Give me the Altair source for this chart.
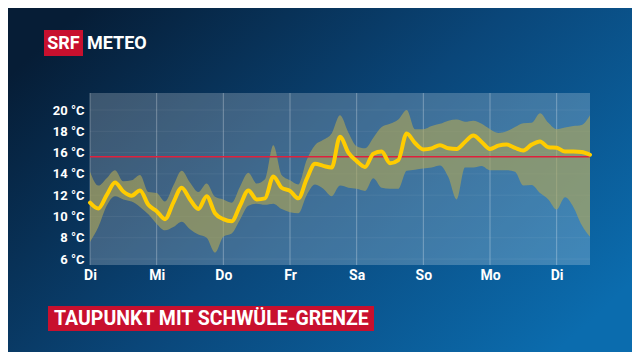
import altair as alt
import pandas as pd

# hours since start (Tuesday 00:00), 3-hourly
hours = list(range(0, 181, 3))

dewpoint = [11.3, 10.75, 12.0, 13.2, 12.35, 11.95, 12.45, 11.1, 10.5, 9.75,
            11.3, 12.7, 11.6, 10.7, 11.9, 10.3, 9.75, 9.55, 11.0, 12.45,
            11.6, 11.7, 13.75, 12.7, 12.4, 11.7, 13.5, 14.95, 14.75, 14.6,
            17.5, 16.0, 15.2, 14.65, 15.9, 16.1, 15.0, 15.3, 17.8, 16.9,
            16.3, 16.4, 16.7, 16.4, 16.35, 17.0, 17.6, 17.0, 16.35, 16.65,
            16.75, 16.45, 16.2, 16.75, 17.05, 16.5, 16.45, 16.1, 16.1, 16.05,
            15.8]

upper = [14.2, 12.9, 13.6, 14.35, 13.3, 13.4, 13.9, 12.3, 12.2, 11.4,
         12.9, 14.3, 13.2, 12.3, 13.1, 11.85, 11.6, 11.3, 12.8, 14.1,
         13.1, 13.5, 16.7, 13.9, 13.4, 13.0, 15.3, 16.7, 17.2, 17.8,
         19.5, 17.9, 16.6, 16.4, 17.4, 18.4, 18.7, 19.1, 20.0, 18.2,
         18.2, 18.5, 18.7, 19.0, 19.1, 18.9, 19.0, 18.7, 18.2, 17.85,
         18.0, 18.4, 18.75, 18.8, 19.7, 18.8, 18.2, 18.35, 18.5, 18.6,
         19.5]

lower = [7.6, 9.0, 11.0, 11.9, 11.6, 11.4, 10.9, 10.2, 9.3, 8.7,
         9.0, 9.5, 8.8, 8.3, 8.0, 6.6, 8.1, 8.4, 9.7, 11.0,
         11.2, 11.1, 11.2, 10.7, 10.4, 10.3, 12.0, 13.0, 12.6, 11.9,
         12.9, 12.7, 12.6, 12.4, 13.6, 12.7, 12.6, 12.6, 14.3, 14.4,
         14.5, 14.6, 14.8, 13.7, 11.6, 14.6, 14.6, 14.75, 14.35, 14.35,
         14.35, 14.2, 12.9, 12.95, 12.2, 11.6, 10.65, 11.8, 10.9, 9.2,
         8.1]

day_hours = [0, 24, 48, 72, 96, 120, 144, 168]
day_labels = ["Di", "Mi", "Do", "Fr", "Sa", "So", "Mo", "Di"]
y_ticks = [6, 8, 10, 12, 14, 16, 18, 20]
threshold = 15.6

title_text = "TAUPUNKT MIT SCHWÜLE-GRENZE"

df = pd.DataFrame({"h": hours, "v": dewpoint, "lo": lower, "hi": upper})
days_df = pd.DataFrame({"h": day_hours, "lab": day_labels})
one = pd.DataFrame({"a": [0]})

W, H = 500, 172
PL, PT = 82, 85
TOTAL_W, TOTAL_H = 624, 344

xscale = alt.Scale(domain=[0, 180], nice=False, zero=False)
yscale = alt.Scale(domain=[5.44, 21.6], nice=False, zero=False)

label_expr = "[" + ",".join("'%s'" % d for d in day_labels) + "][round(datum.value/24)]"

ax_x = alt.Axis(values=day_hours, labelExpr=label_expr, title=None, grid=False,
                domain=False, ticks=False, labelColor="white", labelFont="Roboto",
                labelFontWeight="bold", labelFontSize=14, labelPadding=3, zindex=1,
                labelFlush=False, labelOverlap=False)
ax_y = alt.Axis(values=y_ticks, labelExpr="datum.value + ' °C'", title=None, grid=False,
                domain=False, ticks=False, labelColor="white", labelFont="Roboto",
                labelFontWeight="bold", labelFontSize=13, labelPadding=6, zindex=1,
                labelFlush=False, labelOverlap=False)

X = lambda f: alt.X(f, scale=xscale, axis=ax_x)
Y = lambda f: alt.Y(f, scale=yscale, axis=ax_y)

bg = alt.Chart(one).mark_rect(
    fill=alt.Gradient(
        gradient="linear",
        stops=[alt.GradientStop(color="#061d36", offset=0),
               alt.GradientStop(color="#0a4679", offset=0.5),
               alt.GradientStop(color="#0b6cae", offset=1)],
        x1=0, y1=0.2, x2=1, y2=0.8),
).encode(x=alt.value(-PL), x2=alt.value(TOTAL_W - PL),
         y=alt.value(-PT), y2=alt.value(TOTAL_H - PT))

plotbg = alt.Chart(one).mark_rect(fill="white", opacity=0.22).encode(
    x=alt.value(0), x2=alt.value(W), y=alt.value(0), y2=alt.value(H))

grid = alt.Chart(days_df).mark_rule(color="white", opacity=0.3, strokeWidth=1).encode(
    x=X("h:Q"))

hgrid = alt.Chart(pd.DataFrame({"t": y_ticks})).mark_rule(
    color="white", opacity=0.06, strokeWidth=1).encode(y=Y("t:Q"))

band = alt.Chart(df).mark_area(color="#b0a655", opacity=0.62, interpolate="monotone").encode(
    x=X("h:Q"), y=Y("lo:Q"), y2="hi:Q")

redline = alt.Chart(pd.DataFrame({"t": [threshold]})).mark_rule(
    color="#e0203c", strokeWidth=1.5).encode(y=Y("t:Q"))

line = alt.Chart(df).mark_line(color="#ffcc00", strokeWidth=4, interpolate="monotone",
                               strokeCap="round", strokeJoin="round").encode(
    x=X("h:Q"), y=Y("v:Q"))

logo_box = alt.Chart(one).mark_rect(fill="#c8102e").encode(
    x=alt.value(44 - 90), x2=alt.value(83 - 90), y=alt.value(30 - 93), y2=alt.value(56 - 93))
logo_srf = alt.Chart(one).mark_text(text="SRF", color="white", font="Roboto", fontWeight="bold",
                                    fontSize=18, align="center", baseline="middle").encode(
    x=alt.value(63.5 - 90), y=alt.value(43.5 - 93))
logo_meteo = alt.Chart(one).mark_text(text="METEO", color="white", font="Roboto", fontWeight="bold",
                                      fontSize=18, align="left", baseline="middle").encode(
    x=alt.value(87 - 90), y=alt.value(43.5 - 93))

title_box = alt.Chart(one).mark_rect(fill="#c8102e").encode(
    x=alt.value(48 - 90), x2=alt.value(374 - 90), y=alt.value(306 - 93), y2=alt.value(331 - 93))
title = alt.Chart(one).mark_text(text=title_text, color="white", font="Roboto", fontWeight="bold",
                                 fontSize=19.5, align="left", baseline="middle").encode(
    x=alt.value(54 - 90), y=alt.value(319 - 93))

chart = alt.layer(
    bg, plotbg, hgrid, grid, band, redline, line,
    logo_box, logo_srf, logo_meteo, title_box, title
).properties(
    width=W, height=H,
    autosize=alt.AutoSizeParams(type="none"),
    padding={"left": PL, "top": PT, "right": TOTAL_W - PL - W, "bottom": TOTAL_H - PT - H},
).configure_view(stroke=None).configure(background="#0a3a66")

chart.save("out.html", embed_options={"renderer": "svg", "actions": False})
